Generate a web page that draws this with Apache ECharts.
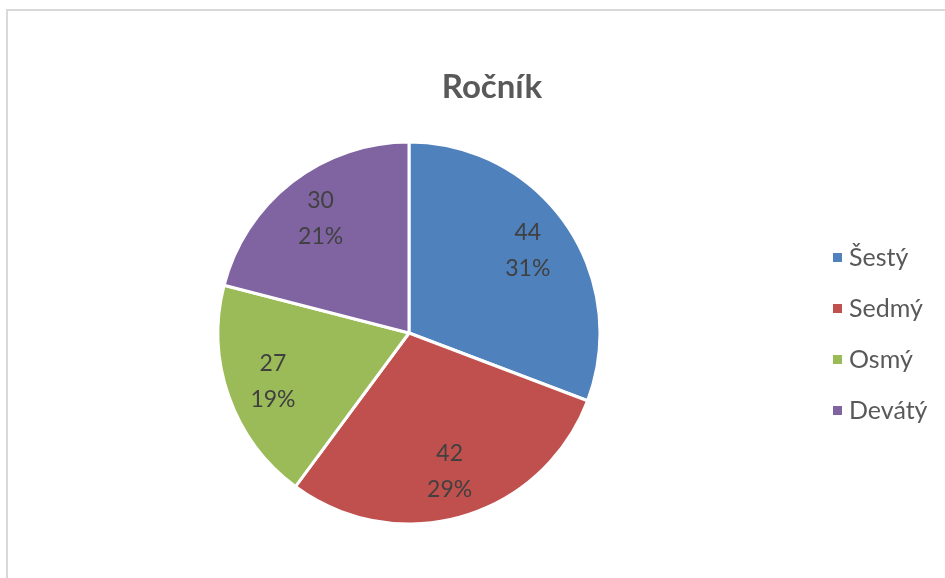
<!DOCTYPE html>
<html>
<head>
<meta charset="utf-8">
<script src="https://cdn.jsdelivr.net/npm/echarts@6/dist/echarts.min.js"></script>
<style>
  html, body { margin: 0; padding: 0; background: #fff; }
  #chart { width: 945px; height: 578px; }
</style>
</head>
<body>
<div id="chart"></div>
<script>
// data
const categories = ['Šestý', 'Sedmý', 'Osmý', 'Devátý'];
const values = [44, 42, 27, 30];
const colors = ['#4f81bd', '#c0504d', '#9bbb59', '#8064a2'];

const pieData = categories.map((name, i) => ({
    name: name,
    value: values[i],
    itemStyle: { color: colors[i] }
}));

const center = [409, 333];
const radius = 191;
const font = 'Lato, "Open Sans", sans-serif';

const chart = echarts.init(document.getElementById('chart'));

chart.setOption({
    animation: false,
    title: {
        text: 'Ročník',
        left: 487,
        top: 82,
        textAlign: 'center',
        textVerticalAlign: 'middle',
        textStyle: { fontFamily: font, fontSize: 33, fontWeight: 'bold', color: '#595959' }
    },
    legend: {
        orient: 'vertical',
        left: 826,
        top: 240,
        itemWidth: 11,
        itemHeight: 11,
        itemGap: 26,
        icon: 'rect',
        data: categories,
        textStyle: { fontFamily: font, fontSize: 25, color: '#595959', padding: [0, 0, 0, 1] }
    },
    graphic: [{
        type: 'rect',
        shape: { x: 7, y: 10, width: 1200, height: 1200 },
        style: { fill: 'none', stroke: '#d9d9d9', lineWidth: 2 },
        silent: true
    }],
    series: [{
        // slices
        type: 'pie',
        center: center,
        radius: radius,
        startAngle: 90,
        clockwise: true,
        label: { show: false },
        labelLine: { show: false },
        itemStyle: { borderColor: '#fff', borderWidth: 3 },
        data: pieData
    }, {
        // labels only, placed near 3/4 radius
        type: 'pie',
        center: center,
        radius: [radius * 0.48, radius],
        startAngle: 90,
        clockwise: true,
        silent: true,
        legendHoverLink: false,
        itemStyle: { color: 'transparent', borderWidth: 0 },
        label: {
            show: true,
            position: 'inside',
            formatter: '{c}\n{d}%',
            fontFamily: font,
            fontSize: 23,
            lineHeight: 36,
            color: '#404040'
        },
        percentPrecision: 0,
        labelLine: { show: false },
        data: categories.map((name, i) => ({ name: name + ' ', value: values[i] }))
    }]
});
</script>
</body>
</html>
